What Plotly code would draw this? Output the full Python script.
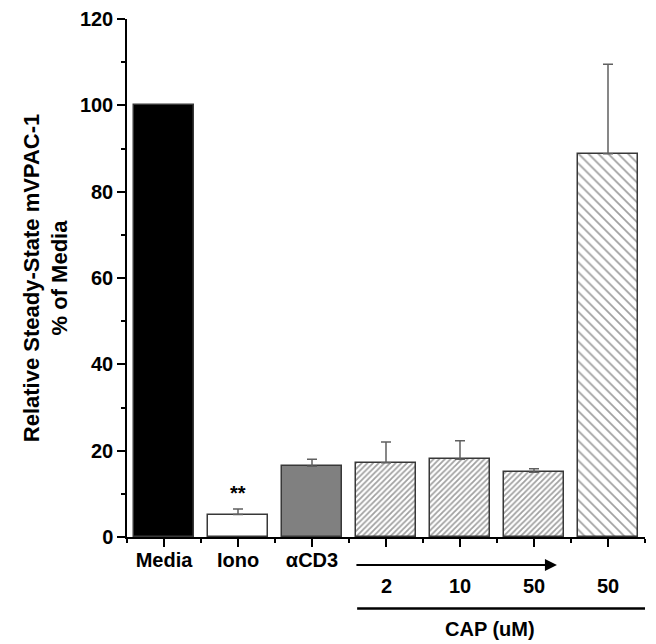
import plotly.graph_objects as go

categories = ["Media", "Iono", "αCD3", "CAP 2", "CAP 10", "CAP 50", "CAP 50 b"]
tick_labels = ["Media", "Iono", "αCD3", "", "", "", ""]
values = [100, 5.2, 16.4, 17.2, 18.0, 15.0, 88.8]
errors = [0, 1.3, 1.6, 4.8, 4.3, 0.8, 20.7]
dose_labels = ["2", "10", "50", "50"]

x = list(range(len(categories)))
FONT = "Liberation Sans"
FS = 20

fill_colors = ["black", "white", "#808080", "white", "white", "white", "white"]
shapes_pat = ["", "", "", "/", "/", "/", "\\"]
pat_sizes = [8, 8, 8, 4, 4, 4, 7]

fig = go.Figure()
fig.add_trace(go.Bar(
    x=x, y=values, width=0.81,
    marker=dict(
        color=fill_colors,
        line=dict(color="#383838", width=1.5),
        pattern=dict(shape=shapes_pat, size=pat_sizes,
                     solidity=[0.2, 0.2, 0.2, 0.45, 0.45, 0.45, 0.25],
                     fgcolor="black", bgcolor="white", fillmode="overlay"),
    ),
    showlegend=False,
))
# error bars (upper only), skipping the Media reference bar
fig.add_trace(go.Scatter(
    x=x[1:], y=values[1:], mode="markers",
    marker=dict(size=1, opacity=0),
    error_y=dict(type="data", symmetric=False, array=errors[1:],
                 arrayminus=[0]*len(errors[1:]), color="#606060",
                 thickness=1.5, width=5),
    showlegend=False, hoverinfo="skip",
))

# significance stars
fig.add_annotation(x=1, y=10.3, xref="x", yref="y", text="<b>**</b>",
                   showarrow=False, font=dict(family=FONT, size=FS, color="black"))

# dose labels
for xi, lab in zip([3, 4, 5, 6], dose_labels):
    fig.add_annotation(x=xi, y=-0.119, xref="x", yref="paper", text=f"<b>{lab}</b>",
                       showarrow=False, font=dict(family=FONT, size=FS, color="black"))

# arrow
fig.add_annotation(x=5.31, y=-0.054, xref="x", yref="paper",
                   ax=2.58, ay=0, axref="x", ayref="pixel",
                   text="", showarrow=True, arrowhead=2, arrowsize=1.2,
                   arrowwidth=2, arrowcolor="black")

# CAP line
fig.add_shape(type="line", xref="x", yref="paper", x0=2.61, x1=6.5,
              y0=-0.138, y1=-0.138, line=dict(color="black", width=2.5))
fig.add_annotation(x=4.4, y=-0.202, xref="x", yref="paper", text="<b>CAP (uM)</b>",
                   showarrow=False, font=dict(family=FONT, size=FS, color="black"))

fig.update_layout(
    width=648, height=636,
    margin=dict(l=119, r=11, t=11, b=107, autoexpand=False),
    plot_bgcolor="white", paper_bgcolor="white",
    bargap=0,
    font=dict(family=FONT, size=FS, color="black"),
    xaxis=dict(
        range=[-0.5, 6.5], tickmode="array", tickvals=x,
        ticktext=[f"<b>{t}</b>" for t in tick_labels],
        showline=True, linecolor="black", linewidth=1.5,
        ticks="outside", ticklen=8, tickwidth=1.5, tickcolor="black",
        minor=dict(tickvals=[i - 0.5 for i in range(8)], ticks="outside",
                   ticklen=4, tickwidth=1.5, tickcolor="black"),
        showgrid=False, zeroline=False, automargin=False,
        ticklabelstandoff=-4,
        tickfont=dict(family=FONT, size=FS, color="black"),
    ),
    yaxis=dict(
        range=[0, 120], tickmode="array", tickvals=[0, 20, 40, 60, 80, 100, 120],
        ticktext=[f"<b>{v}</b>" for v in [0, 20, 40, 60, 80, 100, 120]],
        showline=True, linecolor="black", linewidth=1.5,
        ticks="outside", ticklen=8, tickwidth=1.5, tickcolor="black",
        minor=dict(tickvals=[10, 30, 50, 70, 90, 110], ticks="outside",
                   ticklen=4, tickwidth=1.5, tickcolor="black"),
        showgrid=False, zeroline=False, automargin=False,
        tickfont=dict(family=FONT, size=FS, color="black"),
        title=dict(text="<b>Relative Steady-State mVPAC-1<br>% of Media</b>",
                   font=dict(family=FONT, size=22, color="black"), standoff=6),
    ),
)

fig.write_html("out.html")
